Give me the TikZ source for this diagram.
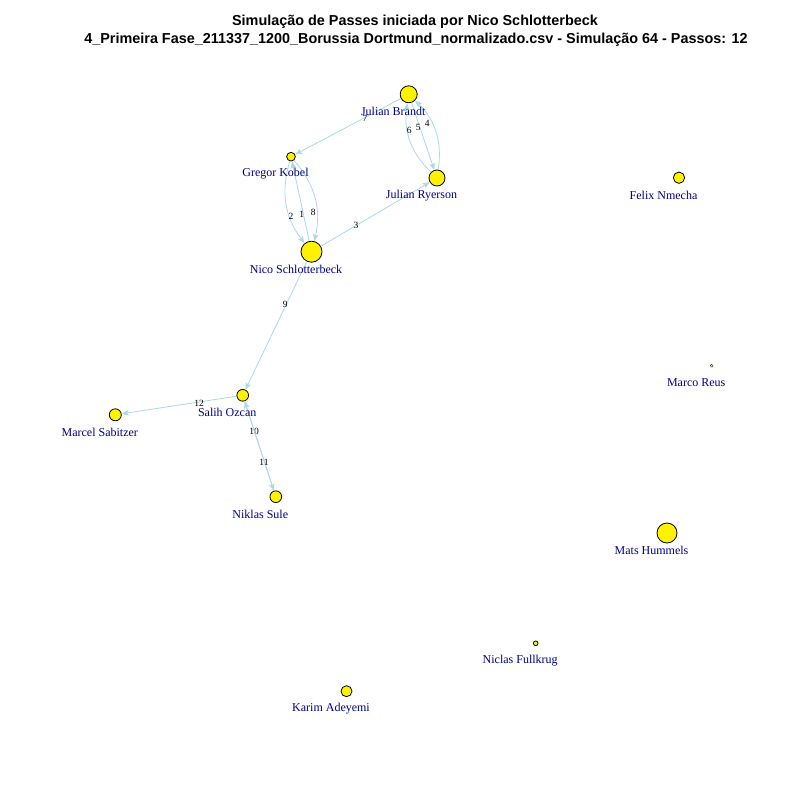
\documentclass[tikz,border=0pt]{standalone}
\usepackage{fontspec}
\setmainfont{Liberation Serif}
\newfontfamily\titlefont{Liberation Sans}
\usetikzlibrary{arrows.meta}
\definecolor{edgeblue}{HTML}{ADD8E6}
\definecolor{labblue}{HTML}{00008B}
\begin{document}
\begin{tikzpicture}[x=1pt,y=-1pt,
  player/.style={circle,draw=black,fill=yellow,line width=0.8pt,inner sep=0pt,minimum size=#1},
  plab/.style={text=labblue,font=\fontsize{12}{12}\selectfont,inner sep=0pt},
  pass/.style={draw=edgeblue,line width=0.8pt,-{Stealth[length=7pt,width=5.5pt,inset=1.5pt]}},
  elab/.style={font=\fontsize{9.5}{9.5}\selectfont,inner sep=0pt,text=black},
  ttl/.style={font=\titlefont\bfseries\fontsize{14.4}{14.4}\selectfont,inner sep=0pt}]
\useasboundingbox[fill=white] (0,0) rectangle (800,800);

% title
\node[ttl] (t1) at (415,22) {Simulação de Passes iniciada por Nico Schlotterbeck};
\node[ttl] (t2) at (416,40) {4\_Primeira Fase\_211337\_1200\_Borussia Dortmund\_normalizado.csv - Simulação 64 - Passos: 12};

% players
\node[player=17pt]   (b)  at (408.7,94.3) {};
\node[player=8.7pt]  (g)  at (291,156.7) {};
\node[player=16pt]   (r)  at (437,178) {};
\node[player=21pt]   (n)  at (311.5,251.7) {};
\node[player=11.3pt] (f)  at (679,177.7) {};
\node[player=3pt,line width=0.3pt] (m)  at (711.7,365.7) {};
\node[player=11.7pt] (s)  at (242.7,395.3) {};
\node[player=12pt]   (ms) at (115.3,414.8) {};
\node[player=11.7pt] (su) at (275.8,496.7) {};
\node[player=20pt]   (h)  at (667,533) {};
\node[player=4.7pt]  (fu) at (535.7,643.3) {};
\node[player=11pt]   (k)  at (346.5,691.2) {};

% passes
\draw[pass] (n) -- (g) node[elab] at (301.7,214) {1};
\draw[pass] (g) to[bend right=27] (n) node[elab] at (291,216) {2};
\draw[pass] (n) -- (r) node[elab] at (356,225.7) {3};
\draw[pass] (r) to[bend right=27] (b) node[elab] at (427.3,123.3) {4};
\draw[pass] (b) -- (r) node[elab] at (418.3,127.3) {5};
\draw[pass] (r) to[bend left=27] (b) node[elab] at (409.3,130) {6};
\draw[pass] (b) -- (g) node[elab] at (365,118.7) {7};
\draw[pass] (g) to[bend left=27] (n) node[elab] at (313.3,212.7) {8};
\draw[pass] (n) -- (s) node[elab] at (285.3,304) {9};
\draw[pass] (s) -- (su) node[elab] at (254,431.7) {10};
\draw[pass] (su) -- (s) node[elab] at (264,462.7) {11};
\draw[pass] (s) -- (ms) node[elab] at (199,403.3) {12};

% player labels
\node[plab] (lb)  at (393.2,111.6) {Julian Brandt};
\node[plab] (lg)  at (275.5,174) {Gregor Kobel};
\node[plab] (lr)  at (421.5,195.3) {Julian Ryerson};
\node[plab] (ln)  at (296,269) {Nico Schlotterbeck};
\node[plab] (lf)  at (663.5,195.5) {Felix Nmecha};
\node[plab] (lm)  at (696.2,383) {Marco Reus};
\node[plab] (ls)  at (227.2,412.6) {Salih Ozcan};
\node[plab] (lms) at (99.8,432) {Marcel Sabitzer};
\node[plab] (lsu) at (260.3,514) {Niklas Sule};
\node[plab] (lh)  at (651.5,550.3) {Mats Hummels};
\node[plab] (lfu) at (520.2,660.6) {Niclas Fullkrug};
\node[plab] (lk)  at (331,708.5) {Karim Adeyemi};
\end{tikzpicture}
\end{document}
